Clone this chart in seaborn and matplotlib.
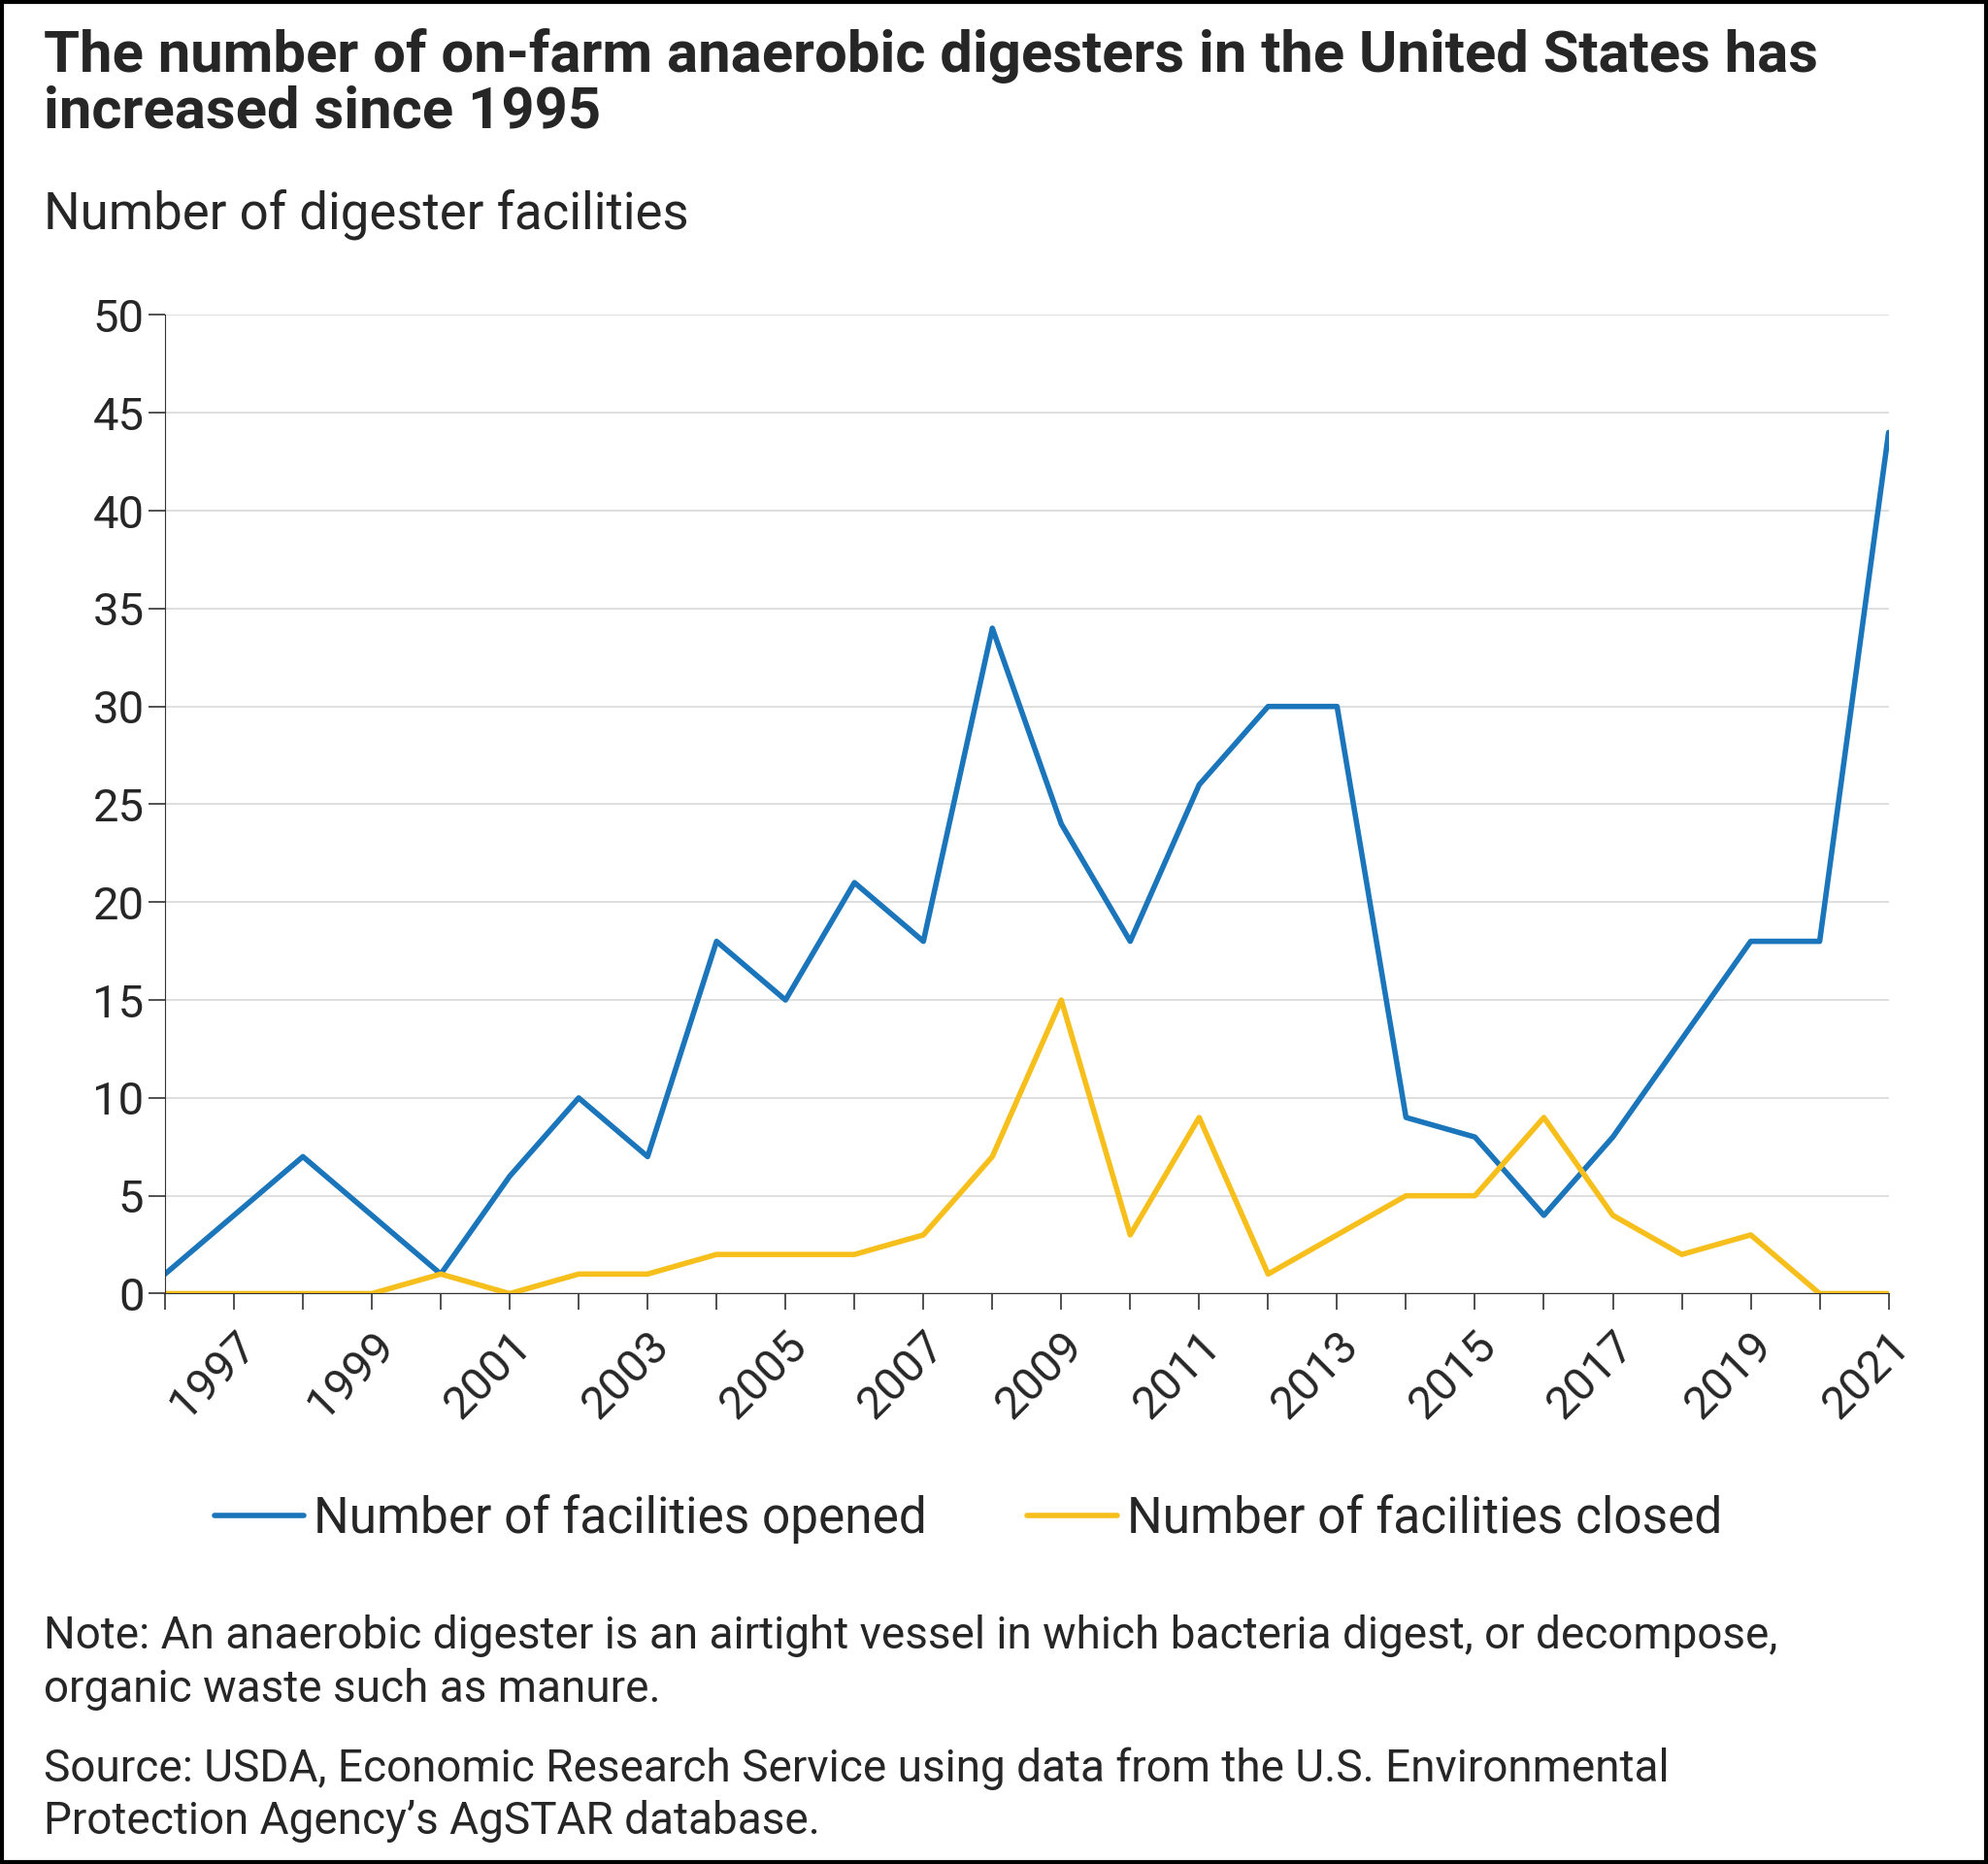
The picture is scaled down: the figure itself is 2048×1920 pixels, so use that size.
import matplotlib
matplotlib.use("Agg")
import matplotlib.pyplot as plt
import seaborn as sns
import pandas as pd
from matplotlib.patches import Rectangle
from matplotlib.lines import Line2D

years = list(range(1996, 2022))
opened = [1, 4, 7, 4, 1, 6, 10, 7, 18, 15, 21, 18, 34, 24, 18, 26, 30, 30, 9, 8, 4, 8, 13, 18, 18, 44]
closed = [0, 0, 0, 0, 1, 0, 1, 1, 2, 2, 2, 3, 7, 15, 3, 9, 1, 3, 5, 5, 9, 4, 2, 3, 0, 0]

df = pd.DataFrame({"year": years * 2,
                   "count": opened + closed,
                   "series": ["Number of facilities opened"] * len(years) + ["Number of facilities closed"] * len(years)})

sns.set_style("white")
plt.rcParams['font.family'] = ['Roboto', 'DejaVu Sans']

fig = plt.figure(figsize=(20.48, 19.2), dpi=100)
ax = fig.add_axes([0.083, 0.306, 0.867, 0.525])

sns.lineplot(ax=ax, data=df, x="year", y="count", hue="series",
             palette=["#1a75bb", "#f7bf1b"], linewidth=4, legend=False)

ax.set_xlim(1996, 2021)
ax.set_ylim(0, 50)
ax.set_yticks(range(0, 51, 5))
ax.set_xticks(years)
ax.set_xticklabels([str(y) if y % 2 == 1 else "" for y in years], rotation=45,
                   ha="right", rotation_mode="anchor")
ax.tick_params(axis="both", labelsize=34, length=12, width=1.2, color="#333333",
               direction="out", bottom=True, left=True)
ax.tick_params(axis="x", pad=10)
ax.yaxis.grid(True, color="#d9d9d9", linewidth=1.2)
for s in ["top", "right"]:
    ax.spines[s].set_visible(False)
ax.spines["left"].set_color("#333333")
ax.spines["bottom"].set_color("#333333")
ax.set_xlabel("")
ax.set_ylabel("")

fig.text(0.022, 0.985, "The number of on-farm anaerobic digesters in the United States has\nincreased since 1995",
         fontsize=43, fontweight="bold", va="top", linespacing=1.05)
fig.text(0.022, 0.885, "Number of digester facilities", fontsize=38, va="center")

handles = [Line2D([], [], color="#1a75bb", lw=4), Line2D([], [], color="#f7bf1b", lw=4)]
fig.legend(handles, ["Number of facilities opened", "Number of facilities closed"],
           loc="center", bbox_to_anchor=(0.487, 0.185), ncol=2, frameon=False,
           fontsize=37, handlelength=1.8, handletextpad=0.2, columnspacing=2.0)

fig.text(0.022, 0.108, "Note: An anaerobic digester is an airtight vessel in which bacteria digest, or decompose,\norganic waste such as manure.",
         fontsize=33, va="center", linespacing=1.3)
fig.text(0.022, 0.037, "Source: USDA, Economic Research Service using data from the U.S. Environmental\nProtection Agency\u2019s AgSTAR database.",
         fontsize=33, va="center", linespacing=1.3)

fig.patches.append(Rectangle((0.001, 0.001), 0.998, 0.998, transform=fig.transFigure,
                             fill=False, edgecolor="black", linewidth=3))

fig.savefig("out.png", dpi=100)
plt.close(fig)
